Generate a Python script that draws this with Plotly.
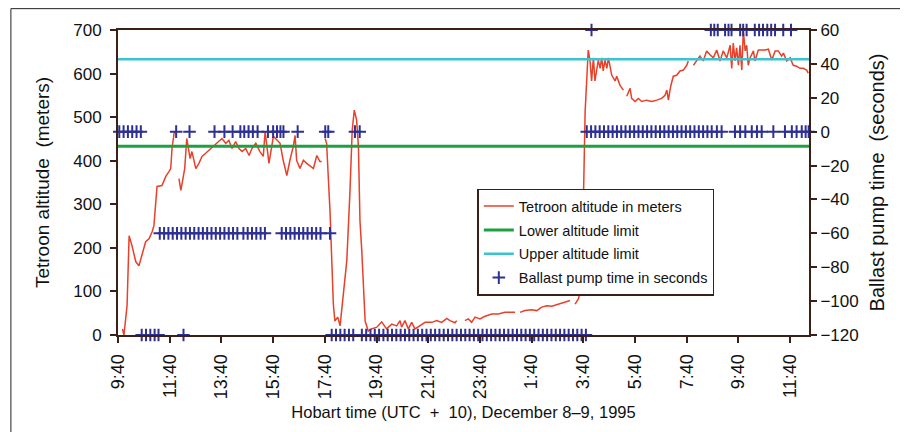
import plotly.graph_objects as go

# Altitude series: hours after 9:40 (Dec 8, Hobart time) and altitude in meters
alt_hours = [0.17,0.23,0.35,0.39,0.43,0.54,0.69,0.81,0.93,1.07,1.20,1.32,1.39,1.46,1.51,1.70,1.85,1.97,2.04,2.09,2.17,2.23, None,
             2.36,2.43,2.48,2.58,2.66,2.71,2.79,2.86,3.01,3.13,3.25,3.39,3.59,3.71,3.91,4.02,4.17,4.29,4.41,4.55,4.68,4.80,4.94,5.07,5.18,5.33,
             5.49,5.62,5.69,5.75,5.84,6.01,6.14,6.27,6.39,6.53,6.65,6.78,6.85,6.91,7.04,7.17,7.30,7.43,7.56,7.69,7.81,7.88, None,
             8.01,8.07,8.14,8.20,8.27,8.33,8.39,8.50,8.59,8.68,8.75,8.85,8.97,9.06,9.14,9.23,9.30,9.36,9.43,9.49,
             9.56,9.68,9.81,10.01,10.20,10.39,10.59,10.78,10.91,10.97,11.10,11.23,11.36,11.49,11.68,11.88,12.14,12.33,12.52,12.72,12.84,13.04,13.10, None,
             13.42,13.55,13.68,13.81,14.00,14.20,14.46,14.71,14.97,15.16,15.36, None,
             15.55,15.74,16.00,16.20,16.39,16.58,16.78,17.03,17.23,17.49, None,
             17.68,17.81,17.94,18.00,18.04,18.07,18.13,18.19,18.26,18.32,18.39,18.45,18.58,18.65,18.71,18.77,18.84,18.91,18.97,19.10,19.23,19.29,19.42,19.55, None,
             19.68,19.81,19.87,20.00,20.13,20.26,20.45,20.65,20.84,21.03,21.16,21.23,21.29,21.38,21.48,21.61,21.74,21.87,22.00,22.06, None,
             22.26,22.39,22.51,22.64,22.77,22.90,23.03,23.16,23.29,23.41,23.55,23.68,23.74,23.80,23.87,23.93,24.00,24.06,24.13,24.19,
             24.26,24.32,24.38,24.45,24.58,24.64,24.77,24.90,25.03,25.16,25.29,25.42,25.54,25.67,25.74,25.87,26.00,26.12,26.25,26.38,26.51,26.64,26.70]
alt_meters = [14,0,67,159,228,205,168,159,182,214,221,237,251,313,341,343,364,375,382,428,463,467, None,
              359,332,348,382,451,435,405,421,382,394,410,417,428,435,444,451,440,447,428,444,428,421,428,412,428,440,
              421,410,467,440,394,456,447,440,401,366,401,433,458,401,382,401,394,387,382,412,398,398, None,
              451,440,355,286,170,71,32,41,21,78,124,170,325,470,516,493,433,262,193,110,
              32,9,14,18,30,14,25,21,33,18,33,14,29,14,21,29,29,33,29,38,33,28,33, None,
              33,37,29,41,37,43,48,48,52,52,52, None,
              52,56,58,56,64,67,66,71,75,79, None,
              71,83,113,329,398,513,583,654,629,583,636,583,631,612,636,606,631,612,636,596,583,594,573,562, None,
              548,566,543,536,543,536,539,536,539,543,550,562,539,571,594,596,606,608,619,629, None,
              619,631,640,629,652,643,636,654,629,652,636,665,612,670,629,659,619,665,608,698,
              652,665,619,636,652,629,654,654,654,656,631,652,652,640,647,629,636,619,617,612,612,608,601]

lower_limit = 433
upper_limit = 633

# Ballast pump times (minutes after 9:40) grouped by pump time value (seconds)
pump_levels = [60, 0, -60, -120]
pump_min_60 = [1099,1376,1384,1392,1409,1417,1424,1444,1451,1459,1478,1488,1497,1507,1516,1525,1544,1562]
pump_min_0 = [3,13,23,33,43,53,135,166,224,247,266,284,293,303,313,324,348,360,369,377,384,417,481,488,550,561,
              1088,1098,1108,1118,1128,1138,1148,1158,1168,1178,1188,1198,1208,1218,1228,1238,1248,1258,1268,1278,
              1288,1298,1308,1318,1328,1338,1348,1358,1368,1378,
              1390,1401,1432,1444,1456,1471,1483,1494,1521,1548,1564,1575,1587,1596,1603]
pump_min_m60 = [97,107,117,127,137,147,157,167,177,187,197,207,217,227,237,247,257,267,277,
                291,301,311,321,331,341,
                380,390,400,410,420,430,440,450,460,470,
                492]
pump_min_m120 = [55,65,75,85,94,152,496,506,516,526,536,546,
                 566,576,586,596,606,616,626,636,646,656,666,676,686,696,706,716,726,736,746,756,766,776,786,796,
                 806,816,826,836,846,856,866,876,886,896,906,916,926,936,946,956,966,976,986,996,1006,1016,1026,
                 1036,1046,1056,1066,1076,1086]
pump_groups = [pump_min_60, pump_min_0, pump_min_m60, pump_min_m120]

tick_hours = [0,2,4,6,8,10,12,14,16,18,20,22,24,26]
tick_labels = ["9:40","11:40","13:40","15:40","17:40","19:40","21:40","23:40",
               "1:40","3:40","5:40","7:40","9:40","11:40"]
x_range = [0, 26.73]

pump_x, pump_y = [], []
for lvl, grp in zip(pump_levels, pump_groups):
    for m in grp:
        pump_x.append(m / 60.0)
        pump_y.append(lvl)

BROWN = "#3a2016"
FONT = "Liberation Sans, Arial, sans-serif"

fig = go.Figure()
fig.add_trace(go.Scatter(x=alt_hours, y=alt_meters, mode="lines", name="Tetroon altitude in meters",
                         legendgroup="a", line=dict(color="#e8402a", width=1.5), connectgaps=False))
fig.add_trace(go.Scatter(x=x_range, y=[lower_limit]*2, mode="lines", name="Lower altitude limit",
                         legendgroup="b", line=dict(color="#1fa040", width=3)))
fig.add_trace(go.Scatter(x=x_range, y=[upper_limit]*2, mode="lines", name="Upper altitude limit",
                         legendgroup="c", line=dict(color="#3cc3d0", width=2.5)))
fig.add_trace(go.Scatter(x=pump_x, y=pump_y, mode="markers", name="Ballast pump time in seconds", yaxis="y2",
                         legendgroup="d",
                         marker=dict(symbol="cross-thin", size=9, line=dict(color="#2e3192", width=2), color="#2e3192"),
                         cliponaxis=False))

def axis_common(size):
    return dict(showline=True, linecolor=BROWN, linewidth=2, ticks="outside", ticklen=6,
                tickwidth=2, tickcolor=BROWN, showgrid=False, zeroline=False,
                tickfont=dict(family=FONT, size=size, color="#111"))

fig.update_layout(
    width=908, height=432,
    margin=dict(l=110, r=107, t=22, b=105),
    paper_bgcolor="white", plot_bgcolor="white",
    font=dict(family=FONT, size=16, color="#111"),
    showlegend=True,
    legend=dict(x=0.52, y=0.48, xanchor="left", yanchor="top", bgcolor="white",
                bordercolor=BROWN, borderwidth=1.5, font=dict(family=FONT, size=14.5, color="#111"),
                itemwidth=30, tracegroupgap=2),
    xaxis=dict(**axis_common(18), range=x_range, tickmode="array", tickvals=tick_hours, ticktext=tick_labels,
               tickangle=-90, mirror=True, ticklabelstandoff=4,
               title=dict(text="Hobart time (UTC  +  10), December 8–9, 1995", font=dict(size=16.5), standoff=8)),
    yaxis=dict(**axis_common(17), range=[0, 700], dtick=100, ticklabelstandoff=5,
               title=dict(text="Tetroon altitude  (meters)", font=dict(size=19), standoff=19)),
    yaxis2=dict(**axis_common(17), range=[-120, 60], dtick=20, overlaying="y", side="right",
                title=dict(text="Ballast pump time  (seconds)", font=dict(size=20), standoff=12)),
    shapes=[dict(type="rect", xref="paper", yref="paper", x0=-0.155, x1=1.1346, y0=-0.34, y1=1.070,
                 line=dict(color="#222", width=1), fillcolor="rgba(0,0,0,0)", layer="below")],
)

fig.write_html("out.html")
